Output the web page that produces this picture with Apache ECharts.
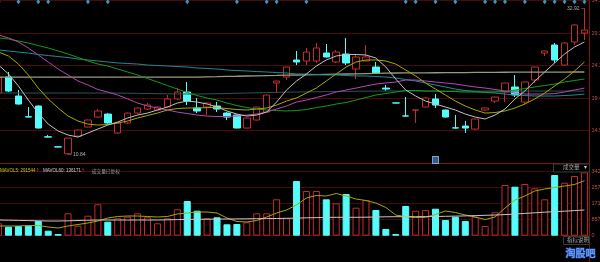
<!DOCTYPE html>
<html><head><meta charset="utf-8">
<script src="https://cdn.jsdelivr.net/npm/echarts@6/dist/echarts.min.js"></script>
<style>html,body{margin:0;padding:0;background:#000;overflow:hidden}#c{width:600px;height:262px}</style>
</head><body><div id="c"></div>
<script>
const days = ['1','2','3','4','5','6','7','8','9','10','11','12','13','14','15','16','17','18','19','20','21','22','23','24','25','26','27','28','29','30','31','32','33','34','35','36','37','38','39','40','41','42','43','44','45','46','47','48','49','50','51','52','53','54','55','56','57','58','59','60'];
const open  = [20.15,22.56,19.70,16.58,18.19,13.55,12.04,11.00,13.66,15.02,16.53,16.98,14.12,15.63,17.13,17.74,17.59,18.04,19.25,20.30,17.89,18.04,18.19,17.13,16.83,14.87,16.08,17.28,21.66,22.56,25.13,24.98,24.98,26.18,24.83,26.03,23.77,24.98,24.07,20.90,18.66,16.70,17.57,18.04,19.25,17.59,14.90,15.17,14.72,17.59,18.94,20.30,21.06,18.79,22.11,26.18,27.39,24.37,27.84,29.20];
const close = [22.56,20.45,18.49,16.53,14.87,13.51,12.01,13.36,14.57,16.08,17.44,15.63,15.63,17.13,17.89,18.34,18.04,19.25,20.30,18.94,17.44,18.64,17.74,16.53,14.87,16.38,18.04,19.85,21.96,24.07,24.83,26.33,26.94,25.58,26.33,24.68,25.58,25.58,23.17,20.75,18.64,16.68,17.60,19.40,18.34,16.53,14.87,14.87,16.23,17.89,19.55,21.66,19.85,21.81,24.07,26.49,25.13,27.69,30.41,29.65];
const low   = [19.95,20.30,18.40,16.50,14.80,13.45,11.95,10.84,13.60,14.95,16.40,15.50,14.00,15.50,17.00,17.60,17.50,17.90,19.10,18.34,17.13,16.83,17.28,16.08,14.80,14.80,16.00,17.20,20.15,22.11,24.37,24.37,24.68,25.50,24.68,24.37,22.26,24.90,23.10,20.45,18.60,16.60,15.63,17.90,17.89,16.45,14.80,14.12,14.60,17.50,18.64,18.79,19.55,18.49,21.66,25.73,24.68,24.30,27.39,28.14];
const high  = [22.75,23.32,20.60,18.04,18.30,13.82,12.05,13.40,14.60,16.15,17.74,17.10,15.70,17.20,18.00,18.64,18.10,19.85,20.90,21.81,19.40,18.79,18.79,17.28,16.90,16.45,18.10,19.90,22.00,24.10,26.49,26.94,27.69,27.54,26.64,28.45,25.88,27.39,24.83,21.36,18.70,19.55,17.65,19.50,20.00,17.65,16.83,15.93,16.30,17.95,19.60,21.70,22.87,21.90,24.10,26.55,27.69,27.75,30.50,32.92];
const volume = [65720,47700,51410,53000,77910,26500,9010,118720,53000,106000,166420,74200,92220,100700,118720,97520,65720,92220,139920,183910,132500,92220,97520,60420,62010,71020,118720,118720,192920,92220,289910,236910,236910,192920,171720,221010,148400,189210,136210,35510,9010,157410,132500,136210,143100,83210,100700,77910,100700,51410,124020,268710,259700,274010,251220,192920,321710,280900,316410,336020];
const ma5   = [24.37,23.02,21.21,19.09,17.13,15.47,14.42,13.82,13.51,14.12,14.72,15.32,15.78,16.38,16.83,17.13,17.59,18.04,18.64,18.94,18.79,18.49,18.04,17.44,16.98,16.68,16.83,17.28,18.79,20.60,21.96,23.02,24.22,25.13,25.73,25.96,25.96,25.88,25.43,24.07,22.26,20.60,19.70,18.94,18.49,18.04,17.59,16.98,16.53,16.23,16.83,17.74,19.25,20.45,21.96,23.32,24.68,26.03,27.09,27.84];
const ma10  = [26.33,25.73,24.52,22.87,20.90,19.25,17.89,16.68,15.93,15.47,15.32,15.40,15.63,15.93,16.38,16.76,17.13,17.59,17.81,17.89,17.89,17.96,17.96,17.81,17.66,17.59,17.74,17.89,18.34,18.94,19.40,20.15,20.90,21.96,23.02,24.07,24.83,25.13,25.13,24.98,24.52,23.62,22.72,21.66,20.75,19.85,18.94,18.19,17.59,17.13,17.21,17.44,17.89,18.49,19.25,20.15,21.21,22.26,23.47,24.83];
const ma20  = [28.90,28.45,27.84,26.94,25.88,24.83,23.77,22.87,21.96,21.36,20.68,20.30,19.85,19.25,18.64,18.19,17.89,17.59,17.28,17.06,16.83,16.68,16.61,16.61,16.68,16.83,16.98,17.28,17.74,18.19,18.79,19.09,19.47,19.85,20.30,20.60,20.90,21.21,21.51,21.66,21.81,22.11,22.11,21.96,21.81,21.66,21.51,21.28,21.06,20.90,20.68,20.45,20.15,20.00,20.00,20.00,20.07,20.30,20.60,20.90];
const ma30  = [28.45,28.30,27.99,27.69,27.31,26.94,26.49,26.03,25.50,24.98,24.52,24.22,23.77,23.32,22.87,22.34,21.81,21.28,20.75,20.23,19.77,19.40,19.09,18.64,18.26,17.96,17.74,17.59,17.51,17.44,17.51,17.66,17.96,18.19,18.49,18.72,19.09,19.47,19.85,20.07,20.30,20.53,20.53,20.45,20.45,20.38,20.38,20.30,20.30,20.30,20.30,20.38,20.60,20.83,21.06,21.28,21.51,21.81,22.04,22.26];
const ma60  = [26.64,26.49,26.33,26.18,25.96,25.80,25.65,25.50,25.28,25.13,24.98,24.83,24.68,24.60,24.52,24.37,24.30,24.22,24.15,24.07,23.92,23.85,23.77,23.62,23.54,23.47,23.39,23.32,23.24,23.17,23.02,23.02,22.94,22.87,22.87,22.79,22.72,22.72,22.64,22.56,22.41,22.19,21.96,21.66,21.36,21.06,20.75,20.53,20.38,20.23,20.15,20.00,19.85,19.77,19.70,19.70,19.70,19.77,19.85,20.00];
const ma120 = [22.56,22.56,22.56,22.56,22.56,22.56,22.56,22.56,22.56,22.56,22.56,22.56,22.56,22.56,22.56,22.56,22.56,22.56,22.56,22.56,22.56,22.60,22.62,22.65,22.68,22.72,22.74,22.77,22.80,22.84,22.87,22.90,22.93,22.96,22.99,23.02,23.05,23.08,23.11,23.14,23.17,23.18,23.19,23.20,23.21,23.22,23.23,23.24,23.25,23.26,23.27,23.28,23.29,23.29,23.30,23.30,23.31,23.31,23.32,23.32];
const ma250 = [20.15,20.15,20.15,20.15,20.15,20.15,20.15,20.15,20.15,20.15,20.15,20.15,20.15,20.12,20.10,20.08,20.05,20.03,20.02,20.00,20.00,20.02,20.05,20.08,20.12,20.15,20.18,20.22,20.25,20.28,20.30,20.32,20.34,20.36,20.38,20.40,20.42,20.43,20.44,20.45,20.45,20.45,20.45,20.45,20.45,20.45,20.45,20.45,20.45,20.45,20.45,20.45,20.45,20.45,20.45,20.45,20.45,20.45,20.45,20.45];
const mavol5  = [51410,51410,51410,54060,54060,46110,40810,51410,59360,67310,77910,93810,101760,104410,104410,101760,99110,101760,115010,120310,125610,125610,120310,93810,75260,72610,80560,99110,120310,136210,162710,199810,213060,210410,223660,210410,194510,186560,173310,149460,109710,100700,96460,97520,112360,130910,122960,109710,99110,85860,99110,146810,189210,210410,236910,247510,255460,263410,271360,291544];
const mavol60 = [83210,82150,81090,80030,78970,77910,77910,78970,80560,82150,83210,83210,83210,83210,83210,83210,83210,84270,85330,86390,86920,87450,87980,88510,89040,89570,90100,90630,91160,92220,93280,94870,95930,96990,97520,97520,97520,98050,99110,100170,100700,100700,100700,101230,101760,102820,103880,104940,106530,108120,109710,111830,115010,118190,121370,124550,127730,129850,133030,136171];
const priceTicks = [14.5,19.4,24.3,29.2,34.1];
const volTicks = [342936,257202,171468,85734,0];
const markerDays = [0,2,4,5,9,11,19,24,27,28,31,41,42,44,46,49,50,51,53,55,56,57,58,59];
const noticeDays = [44];

const RED = '#c42b2b', CYAN = '#54fcfc', GRID = '#4a0a0a';
const PMIN = 9.6, PMAX = 34.1, VMIN = -139390, VMAX = 380010;
const chart = echarts.init(document.getElementById('c'));
const lbl = {fontSize: 5.5, fontFamily: 'Liberation Sans', color: '#c84a4a', margin: 2};
const maLine = (data, color, w) => ({type: 'line', data, xAxisIndex: 0, yAxisIndex: 0, showSymbol: false, silent: true,
  lineStyle: {color, width: w || 1}, z: 3, animation: false});
const hiIdx = high.indexOf(Math.max(...high)), loIdx = low.indexOf(Math.min(...low));
const F = 'Liberation Sans';
chart.setOption({
  backgroundColor: '#000', animation: false,
  grid: [
    {left: -6.4, right: 10.6, top: 0.5, height: 162.5, outerBoundsMode: 'none', containLabel: false},
    {left: -6.4, right: 10.6, top: 164, height: 98, outerBoundsMode: 'none', containLabel: false}
  ],
  xAxis: [
    {type: 'category', data: days, gridIndex: 0, boundaryGap: true, axisLabel: {show: false}, axisTick: {show: false},
     axisLine: {show: true, lineStyle: {color: '#8a1010'}}},
    {type: 'category', data: days, gridIndex: 1, boundaryGap: true, axisLabel: {show: false}, axisTick: {show: false}, axisLine: {show: false}}
  ],
  yAxis: [
    {type: 'value', gridIndex: 0, position: 'right', min: PMIN, max: PMAX, scale: true,
     axisLine: {show: true, lineStyle: {color: '#8a1010'}}, axisTick: {show: false, customValues: priceTicks},
     axisLabel: Object.assign({customValues: priceTicks, formatter: v => v.toFixed(2)}, lbl),
     splitLine: {show: true, lineStyle: {color: GRID, width: 1}}},
    {type: 'value', gridIndex: 1, position: 'right', min: VMIN, max: VMAX,
     axisLine: {show: true, lineStyle: {color: '#8a1010'}}, axisTick: {show: false, customValues: volTicks},
     axisLabel: Object.assign({customValues: volTicks, formatter: v => String(v)}, lbl),
     splitLine: {show: true, lineStyle: {color: GRID, width: 1}}}
  ],
  series: [
    {type: 'candlestick', xAxisIndex: 0, yAxisIndex: 0, barWidth: 7, z: 2,
     data: days.map((d, i) => [open[i], close[i], low[i], high[i]]),
     itemStyle: {color: '#000', color0: CYAN, borderColor: RED, borderColor0: CYAN, borderWidth: 1}},
    maLine(ma250, '#2b5656'),
    maLine(ma120, '#9a9a78', 1.3),
    maLine(ma60, '#1f8a98'),
    maLine(ma30, '#179a17'),
    maLine(ma20, '#b448b4'),
    maLine(ma10, '#a8a800'),
    maLine(ma5, '#c0c0c0'),
    {type: 'scatter', xAxisIndex: 0, yAxisIndex: 0, symbol: 'diamond', symbolSize: [4, 5], z: 5,
     itemStyle: {color: '#4fb6e6'}, data: markerDays.map(i => [i, PMAX - 0.2])},
    {type: 'scatter', xAxisIndex: 0, yAxisIndex: 0, symbol: 'rect', symbolSize: [6, 7], z: 5,
     itemStyle: {color: '#3a6fb8', borderColor: '#9cc4f0', borderWidth: 1}, data: noticeDays.map(i => [i, PMIN + 0.45])},
    {type: 'scatter', xAxisIndex: 0, yAxisIndex: 0, symbolSize: 0, z: 6,
     label: {show: true, fontSize: 5, fontFamily: F, color: '#d8d8d8', distance: 0},
     data: [
       {value: [hiIdx, high[hiIdx]], label: {position: 'left', formatter: high[hiIdx].toFixed(2) + ' \u2500'}},
       {value: [loIdx, low[loIdx]], label: {position: 'right', formatter: '\u2500 ' + low[loIdx].toFixed(2)}}
     ]},
    {type: 'bar', xAxisIndex: 1, yAxisIndex: 1, barWidth: 7, z: 2,
     data: volume.map((v, i) => ({value: v, itemStyle: close[i] >= open[i]
       ? {color: '#000', borderColor: RED, borderWidth: 1}
       : {color: CYAN, borderColor: CYAN, borderWidth: 1}}))},
    {type: 'line', xAxisIndex: 1, yAxisIndex: 1, data: mavol5, showSymbol: false, z: 3, lineStyle: {color: '#a8a800', width: 1}},
    {type: 'line', xAxisIndex: 1, yAxisIndex: 1, data: mavol60, showSymbol: false, z: 3, lineStyle: {color: '#c8c8c8', width: 1}}
  ],
  graphic: [
    {type: 'text', left: 0, top: 165, z: 10, style: {
      text: '{y|MAVOL5: ' + mavol5[mavol5.length - 1] + '}{r|↑} {w|MAVOL60: ' + mavol60[mavol60.length - 1] + '}{r|↑}  {g|成交量已复权}',
      rich: {
        y: {fill: '#c8c800', fontSize: 4.5, fontFamily: F},
        w: {fill: '#d0d0d0', fontSize: 4.5, fontFamily: F},
        r: {fill: '#ff2a2a', fontSize: 5, fontFamily: 'DejaVu Sans'},
        g: {fill: '#a0a0a0', fontSize: 4.7, fontFamily: 'Noto Sans CJK SC'}
      }}},
    {type: 'rect', left: 553, top: 163.5, z: 10, shape: {width: 36, height: 8}, style: {fill: '#000', stroke: '#3a3a3a', lineWidth: 1}},
    {type: 'text', left: 563, top: 164.5, z: 11, style: {text: '成交量', fill: '#a8a8a8', fontSize: 5.5, fontFamily: 'Noto Sans CJK SC'}},
    {type: 'text', left: 584, top: 164.5, z: 11, style: {text: '▾', fill: '#c8c8c8', fontSize: 6}},
    {type: 'rect', left: 563, top: 236, z: 10, shape: {width: 26, height: 8}, style: {fill: '#000', stroke: '#3a3a3a', lineWidth: 1}},
    {type: 'text', left: 567, top: 237, z: 11, style: {text: '指标说明', fill: '#a8a8a8', fontSize: 5.5, fontFamily: 'Noto Sans CJK SC'}},
    {type: 'text', left: 565, top: 248, z: 11, style: {text: '淘股吧', fill: '#6a9cf2', stroke: '#2451b8', lineWidth: 1, fontSize: 10, fontWeight: 'bold', fontFamily: 'Noto Sans CJK SC'}}
  ]
});
</script></body></html>
